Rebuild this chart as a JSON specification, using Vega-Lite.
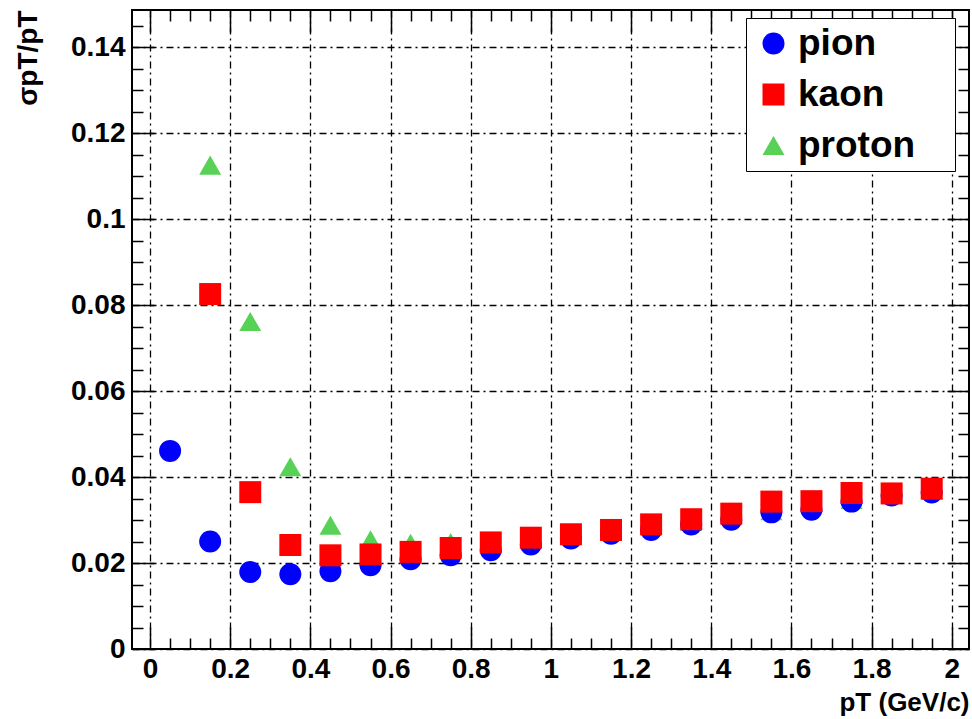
{
  "$schema": "https://vega.github.io/schema/vega-lite/v6.json",
  "autosize": "none",
  "width": 837,
  "height": 639,
  "padding": {"left": 132, "top": 10, "right": 3, "bottom": 70},
  "background": "white",
  "config": {
    "view": {"stroke": "black", "strokeWidth": 2},
    "font": "Liberation Sans",
    "axis": {
      "labelFont": "Liberation Sans",
      "labelFontWeight": "bold",
      "labelFontSize": 28,
      "labelColor": "black",
      "titleFont": "Liberation Sans",
      "titleFontWeight": "bold",
      "titleFontSize": 26,
      "titleColor": "black",
      "domain": false,
      "tickColor": "black",
      "tickWidth": 1.5,
      "gridColor": "black",
      "gridDash": [7, 4, 2, 4],
      "gridWidth": 1.3
    }
  },
  "data": {
    "values": [
      {"pt": 0.05, "res": 0.0461, "particle": "pion"},
      {"pt": 0.15, "res": 0.0250, "particle": "pion"},
      {"pt": 0.25, "res": 0.0179, "particle": "pion"},
      {"pt": 0.35, "res": 0.0174, "particle": "pion"},
      {"pt": 0.45, "res": 0.0181, "particle": "pion"},
      {"pt": 0.55, "res": 0.0195, "particle": "pion"},
      {"pt": 0.65, "res": 0.0209, "particle": "pion"},
      {"pt": 0.75, "res": 0.0218, "particle": "pion"},
      {"pt": 0.85, "res": 0.0230, "particle": "pion"},
      {"pt": 0.95, "res": 0.0243, "particle": "pion"},
      {"pt": 1.05, "res": 0.0257, "particle": "pion"},
      {"pt": 1.15, "res": 0.0268, "particle": "pion"},
      {"pt": 1.25, "res": 0.0277, "particle": "pion"},
      {"pt": 1.35, "res": 0.0290, "particle": "pion"},
      {"pt": 1.45, "res": 0.0301, "particle": "pion"},
      {"pt": 1.55, "res": 0.0318, "particle": "pion"},
      {"pt": 1.65, "res": 0.0324, "particle": "pion"},
      {"pt": 1.75, "res": 0.0343, "particle": "pion"},
      {"pt": 1.85, "res": 0.0357, "particle": "pion"},
      {"pt": 1.95, "res": 0.0364, "particle": "pion"},
      {"pt": 0.15, "res": 0.0826, "particle": "kaon"},
      {"pt": 0.25, "res": 0.0365, "particle": "kaon"},
      {"pt": 0.35, "res": 0.0242, "particle": "kaon"},
      {"pt": 0.45, "res": 0.0218, "particle": "kaon"},
      {"pt": 0.55, "res": 0.0220, "particle": "kaon"},
      {"pt": 0.65, "res": 0.0226, "particle": "kaon"},
      {"pt": 0.75, "res": 0.0235, "particle": "kaon"},
      {"pt": 0.85, "res": 0.0248, "particle": "kaon"},
      {"pt": 0.95, "res": 0.0259, "particle": "kaon"},
      {"pt": 1.05, "res": 0.0267, "particle": "kaon"},
      {"pt": 1.15, "res": 0.0277, "particle": "kaon"},
      {"pt": 1.25, "res": 0.0290, "particle": "kaon"},
      {"pt": 1.35, "res": 0.0302, "particle": "kaon"},
      {"pt": 1.45, "res": 0.0315, "particle": "kaon"},
      {"pt": 1.55, "res": 0.0343, "particle": "kaon"},
      {"pt": 1.65, "res": 0.0344, "particle": "kaon"},
      {"pt": 1.75, "res": 0.0363, "particle": "kaon"},
      {"pt": 1.85, "res": 0.0362, "particle": "kaon"},
      {"pt": 1.95, "res": 0.0373, "particle": "kaon"},
      {"pt": 0.15, "res": 0.1126, "particle": "proton"},
      {"pt": 0.25, "res": 0.0762, "particle": "proton"},
      {"pt": 0.35, "res": 0.0424, "particle": "proton"},
      {"pt": 0.45, "res": 0.0288, "particle": "proton"},
      {"pt": 0.55, "res": 0.0254, "particle": "proton"},
      {"pt": 0.65, "res": 0.0246, "particle": "proton"},
      {"pt": 0.75, "res": 0.0248, "particle": "proton"},
      {"pt": 0.85, "res": 0.0251, "particle": "proton"},
      {"pt": 0.95, "res": 0.0257, "particle": "proton"},
      {"pt": 1.05, "res": 0.0265, "particle": "proton"},
      {"pt": 1.15, "res": 0.0274, "particle": "proton"},
      {"pt": 1.25, "res": 0.0288, "particle": "proton"},
      {"pt": 1.35, "res": 0.0297, "particle": "proton"},
      {"pt": 1.45, "res": 0.0313, "particle": "proton"},
      {"pt": 1.55, "res": 0.0322, "particle": "proton"},
      {"pt": 1.65, "res": 0.0342, "particle": "proton"},
      {"pt": 1.75, "res": 0.0348, "particle": "proton"},
      {"pt": 1.85, "res": 0.0365, "particle": "proton"},
      {"pt": 1.95, "res": 0.0371, "particle": "proton"}
    ]
  },
  "resolve": {"axis": {"x": "independent", "y": "independent"}},
  "layer": [
    {
      "mark": {"type": "point", "filled": true, "opacity": 0},
      "encoding": {
        "x": {"field": "pt", "type": "quantitative",
          "scale": {"domain": [-0.045, 2.043], "nice": false, "zero": false},
          "axis": {"orient": "top", "values": [0,0.05,0.1,0.15,0.2,0.25,0.3,0.35,0.4,0.45,0.5,0.55,0.6,0.65,0.7,0.75,0.8,0.85,0.9,0.95,1,1.05,1.1,1.15,1.2,1.25,1.3,1.35,1.4,1.45,1.5,1.55,1.6,1.65,1.7,1.75,1.8,1.85,1.9,1.95,2],
            "labels": false, "grid": false, "title": null,
            "tickSize": {"condition": {"test": "abs(datum.value*5 - round(datum.value*5)) < 0.001", "value": -22}, "value": -11}}},
        "y": {"field": "res", "type": "quantitative",
          "scale": {"domain": [0, 0.1487], "nice": false},
          "axis": {"orient": "right", "values": [0,0.005,0.01,0.015,0.02,0.025,0.03,0.035,0.04,0.045,0.05,0.055,0.06,0.065,0.07,0.075,0.08,0.085,0.09,0.095,0.1,0.105,0.11,0.115,0.12,0.125,0.13,0.135,0.14,0.145],
            "labels": false, "grid": false, "title": null,
            "tickSize": {"condition": {"test": "abs(datum.value*50 - round(datum.value*50)) < 0.001", "value": -22}, "value": -11}}}
      }
    },
    {
      "mark": {"type": "point", "filled": true, "opacity": 1, "size": 484, "strokeWidth": 0},
      "encoding": {
        "x": {"field": "pt", "type": "quantitative",
          "scale": {"domain": [-0.045, 2.043], "nice": false, "zero": false},
          "axis": {"orient": "bottom", "values": [0,0.05,0.1,0.15,0.2,0.25,0.3,0.35,0.4,0.45,0.5,0.55,0.6,0.65,0.7,0.75,0.8,0.85,0.9,0.95,1,1.05,1.1,1.15,1.2,1.25,1.3,1.35,1.4,1.45,1.5,1.55,1.6,1.65,1.7,1.75,1.8,1.85,1.9,1.95,2],
            "grid": true,
            "gridOpacity": {"condition": {"test": "abs(datum.value*5 - round(datum.value*5)) < 0.001", "value": 1}, "value": 0},
            "tickSize": {"condition": {"test": "abs(datum.value*5 - round(datum.value*5)) < 0.001", "value": -22}, "value": -11},
            "labelExpr": "abs(datum.value*5 - round(datum.value*5)) < 0.001 ? format(datum.value, '~g') : ''",
            "labelPadding": 28, "labelFlush": false, "labelOverlap": false,
            "title": "pT (GeV/c)", "titleAnchor": "end", "titleAlign": "right", "titlePadding": -5}},
        "y": {"field": "res", "type": "quantitative",
          "scale": {"domain": [0, 0.1487], "nice": false},
          "axis": {"orient": "left", "values": [0,0.005,0.01,0.015,0.02,0.025,0.03,0.035,0.04,0.045,0.05,0.055,0.06,0.065,0.07,0.075,0.08,0.085,0.09,0.095,0.1,0.105,0.11,0.115,0.12,0.125,0.13,0.135,0.14,0.145],
            "grid": true,
            "gridOpacity": {"condition": {"test": "abs(datum.value*50 - round(datum.value*50)) < 0.001", "value": 1}, "value": 0},
            "tickSize": {"condition": {"test": "abs(datum.value*50 - round(datum.value*50)) < 0.001", "value": -22}, "value": -11},
            "labelExpr": "abs(datum.value*50 - round(datum.value*50)) < 0.001 ? format(datum.value, '~g') : ''",
            "labelPadding": 29, "labelFlush": false, "labelOverlap": false,
            "title": "σpT/pT", "titleAnchor": "end", "titleFontSize": 28, "titlePadding": 28}},
        "color": {"field": "particle", "type": "nominal",
          "scale": {"domain": ["pion", "kaon", "proton"], "range": ["#0000ff", "#ff0000", "#57d257"]},
          "legend": {"orient": "none", "legendX": 614, "legendY": 8,
            "title": " ", "titleOrient": "right", "titlePadding": 33, "titleFontSize": 10,
            "strokeColor": "black", "fillColor": "white", "padding": 7,
            "labelFont": "Liberation Sans", "labelFontWeight": "bold", "labelFontSize": 37, "labelColor": "black",
            "symbolSize": 484, "symbolStrokeWidth": 0, "symbolOffset": 2, "rowPadding": 13, "labelOffset": 6}},
        "shape": {"field": "particle", "type": "nominal",
          "scale": {"domain": ["pion", "kaon", "proton"], "range": ["circle", "square", "triangle-up"]}},
        "order": {"field": "particle", "sort": "descending"}
      }
    }
  ]
}
